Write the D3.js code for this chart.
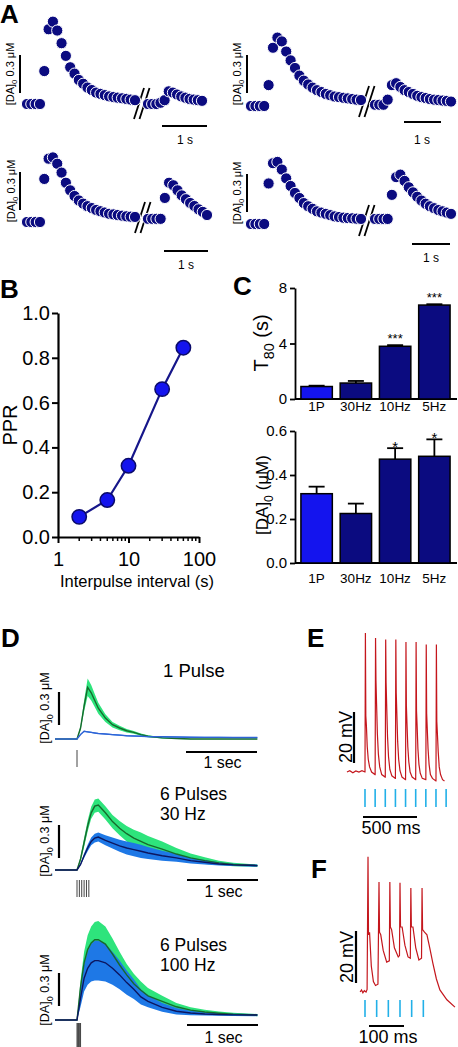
<!DOCTYPE html>
<html><head><meta charset="utf-8">
<script src="https://cdn.jsdelivr.net/npm/d3@7"></script>
<style>body{margin:0;background:#fff}svg{display:block;font-family:"Liberation Sans",Arial,Helvetica,sans-serif}</style>
</head><body><svg id="c" width="458" height="1047"></svg>
<script>
// ================= DATA =================
// Panel A: [DA]o above baseline (uM), one value per sample, before / after the break
const a1Pre  = [0,0,0,0,0.26,0.59,0.65,0.58,0.48,0.38,0.29,0.24,0.19,0.16,0.13,0.11,0.09,0.08,0.07,0.06,0.055,0.05,0.045,0.04,0.035,0.03];
const a1Post = [0,0,0,0.01,0.03,0.1,0.09,0.075,0.06,0.05,0.04,0.035,0.03,0.025];
const a2Pre  = [0,0,0,0,0.165,0.46,0.54,0.51,0.43,0.36,0.30,0.24,0.20,0.17,0.145,0.125,0.11,0.095,0.085,0.075,0.07,0.065,0.06,0.055,0.05,0.047];
const a2Post = [0.01,0.01,0.01,0.05,0.165,0.18,0.15,0.125,0.11,0.095,0.08,0.07,0.063,0.055,0.05,0.047,0.043,0.04,0.035];
const a3Pre  = [0,0,0,0,0.34,0.50,0.51,0.46,0.39,0.31,0.25,0.205,0.17,0.145,0.125,0.11,0.095,0.085,0.075,0.065,0.06,0.055,0.05,0.045,0.042,0.04];
const a3Post = [0.025,0.025,0.025,0.025,0.19,0.31,0.29,0.25,0.21,0.18,0.15,0.126,0.1,0.08,0.055];
const a4Pre  = [0,0,0,0,0.32,0.48,0.49,0.43,0.36,0.30,0.245,0.205,0.165,0.14,0.12,0.10,0.09,0.08,0.07,0.06,0.055,0.05,0.047,0.045,0.042,0.04];
const a4Post = [0.04,0.04,0.04,0.04,0.23,0.37,0.39,0.34,0.29,0.25,0.215,0.185,0.16,0.14,0.125,0.11,0.1,0.09,0.08];

// Panel B: paired-pulse ratio vs interpulse interval
const pprIntervals = [2, 5, 10, 30, 60];
const pprValues    = [0.09, 0.165, 0.318, 0.66, 0.845];
const pprYTicks    = [0, 0.2, 0.4, 0.6, 0.8, 1.0];
const pprXTicks    = [1, 10, 100];

// Panel C
const cCategories = ["1P", "30Hz", "10Hz", "5Hz"];
const t80Mean = [0.9, 1.15, 3.8, 6.77];
const t80Err  = [0.06, 0.15, 0.08, 0.06];
const t80Sig  = ["", "", "***", "***"];
const t80Ticks = [0, 4, 8];
const daMean = [0.315, 0.225, 0.472, 0.485];
const daErr  = [0.032, 0.045, 0.05, 0.077];
const daSig  = ["", "", "*", "*"];
const daTicks = [0, 0.2, 0.4, 0.6];

// Panel D: time (s) and mean / SEM of [DA]o (uM)
const dTime = [-0.31,0,0.05,0.1,0.15,0.2,0.25,0.3,0.4,0.5,0.6,0.7,0.8,0.9,1.0,1.2,1.4,1.6,1.8,2.0,2.2,2.54];
const d1Green    = [0,0,0.1,0.3,0.47,0.42,0.35,0.28,0.19,0.13,0.1,0.075,0.06,0.04,0.025,0.01,0.005,0,0,0,0,0];
const d1GreenSem = [0,0,0.02,0.05,0.08,0.07,0.06,0.05,0.035,0.025,0.02,0.015,0.012,0.01,0.008,0.005,0.004,0.003,0.003,0.003,0.003,0.003];
const d1Blue     = [0,0,0.04,0.07,0.065,0.06,0.055,0.05,0.045,0.04,0.035,0.03,0.027,0.025,0.022,0.02,0.018,0.016,0.015,0.015,0.014,0.013];
const d1BlueSem  = [0,0,0.004,0.005,0.005,0.005,0.005,0.005,0.005,0.005,0.005,0.005,0.005,0.005,0.005,0.005,0.005,0.005,0.005,0.005,0.005,0.005];
const d2Green    = [0,0,0.1,0.25,0.4,0.52,0.58,0.59,0.52,0.44,0.38,0.33,0.29,0.26,0.23,0.19,0.145,0.11,0.085,0.065,0.05,0.04];
const d2GreenSem = [0,0,0.02,0.04,0.05,0.055,0.06,0.06,0.06,0.06,0.065,0.07,0.075,0.08,0.08,0.07,0.055,0.04,0.03,0.02,0.015,0.01];
const d2Blue     = [0,0,0.05,0.13,0.2,0.26,0.29,0.3,0.27,0.245,0.22,0.2,0.185,0.17,0.155,0.13,0.11,0.085,0.07,0.055,0.047,0.04];
const d2BlueSem  = [0,0,0.01,0.02,0.03,0.035,0.04,0.04,0.045,0.05,0.055,0.06,0.06,0.06,0.055,0.045,0.035,0.025,0.02,0.015,0.01,0.01];
const d3Green    = [0,0,0.3,0.52,0.64,0.7,0.73,0.73,0.69,0.6,0.5,0.41,0.33,0.27,0.22,0.17,0.12,0.09,0.073,0.062,0.053,0.045];
const d3GreenSem = [0,0,0.06,0.1,0.13,0.15,0.16,0.17,0.16,0.14,0.12,0.1,0.09,0.08,0.07,0.05,0.035,0.025,0.02,0.015,0.012,0.01];
const d3Blue     = [0,0,0.2,0.38,0.47,0.52,0.54,0.54,0.52,0.47,0.41,0.34,0.28,0.21,0.17,0.115,0.08,0.064,0.055,0.05,0.047,0.045];
const d3BlueSem  = [0,0,0.08,0.12,0.15,0.17,0.18,0.18,0.17,0.15,0.13,0.11,0.09,0.07,0.055,0.04,0.03,0.02,0.015,0.012,0.01,0.01];
const d1Pulses = [0];
const d2Pulses = [0, 1/30, 2/30, 3/30, 4/30, 5/30];
const d3Pulses = [0, 0.01, 0.02, 0.03, 0.04, 0.05];
const dTitles = [["1 Pulse"], ["6 Pulses", "30 Hz"], ["6 Pulses", "100 Hz"]];

// Panel E: membrane potential (ms, mV relative to rest), 10 Hz stimulation
const eTrace = [[-178,0],[-150,0.5],[-120,-0.3],[-90,0.4],[-60,0],[-30,0.5],[-1,0],
 [0,0],[4,54.5],[8,22],[14,18],[22,10],[32,5],[45,2],[65,0],[99,-1],
 [100,-1],[104,52.5],[108,36],[114,27],[122,15],[132,7],[145,2],[165,-1],[199,-2],
 [200,-2],[204,52],[208,35],[214,26],[222,14],[232,6],[245,1],[265,-1.5],[299,-2.5],
 [300,-2.5],[304,52],[308,31],[314,23],[322,12],[332,5],[345,0.5],[365,-2],[399,-3],
 [400,-3],[404,51],[408,26],[414,19],[422,10],[432,4],[445,0],[465,-2],[499,-3],
 [500,-3],[504,51],[508,24],[514,18],[522,9],[532,3],[545,-0.5],[565,-2.5],[599,-3],
 [600,-3],[604,50],[608,23],[614,17],[622,9],[632,3],[645,-1],[665,-2.5],[699,-3.5],
 [700,-3.5],[704,50],[708,20],[714,15],[722,8],[732,2],[745,-1],[765,-3],[784,-3.5]];
const ePulses = [0,100,200,300,400,500,600,700,800];

// Panel F: membrane potential (ms, mV), 6 pulses 30 Hz
const fTrace = [[-14,0],[-10,0.8],[-6,-0.3],[-2,0.5],[3,0],[6,1],[8.6,52],[10,22],[13,23],[18,10],[24,4],[30,2.5],[37,3],
 [40,42.3],[41.5,23],[45,22],[52,16],[62,11.5],[69.5,12],[71,42.3],[72.5,25],[76,24],[84,17],[95,13.5],[98.5,14],
 [100,42],[101.5,25],[106,25],[114,18],[123,13.5],[129.5,13],[131,40],[132.5,25],[137,25],[145,17],[154,12.3],[161.5,13],
 [163,40],[164.5,24],[170,23],[177,22],[185,17],[194,11],[204,5],[214,0.8],[234,-3],[257,-5.8]];
const fPulses = [0, 100/3, 200/3, 100, 400/3, 500/3];

// ================= DRAWING =================
const svg = d3.select("#c");
svg.append("rect").attr("width",458).attr("height",1047).attr("fill","#fff");
const NAVY = "#0b0b80";

function letter(t,x,y){ svg.append("text").attr("x",x).attr("y",y).attr("font-size",26).attr("font-weight","bold").text(t); }
function vline(x,y1,y2,w,c){ svg.append("line").attr("x1",x).attr("x2",x).attr("y1",y1).attr("y2",y2).attr("stroke",c||"#000").attr("stroke-width",w||2); }
function hline(x1,x2,y,w,c){ svg.append("line").attr("x1",x1).attr("x2",x2).attr("y1",y).attr("y2",y).attr("stroke",c||"#000").attr("stroke-width",w||2); }
// rotated label with subscript parts: [[text, isSub], ...]
function rotLabel(x, cy, parts, size){
  const t = svg.append("text").attr("transform",`translate(${x},${cy}) rotate(-90)`)
    .attr("text-anchor","middle").attr("font-size",size).attr("fill","#000");
  let shifted = false;
  parts.forEach(([s,sub])=>{
    const ts = t.append("tspan").text(s);
    if(sub){ ts.attr("font-size",size*0.72).attr("dy",size*0.28); shifted = true; }
    else if(shifted){ ts.attr("dy",-size*0.28); shifted = false; }
  });
}
const daParts = [["[DA]"],["0",true],[" 0.3 \u03bcM"]];

// ---------- Panel A ----------
letter("A",0,23);
const aLayout = [
  {pre:a1Pre, post:a1Post, preX:[27,135], postX:[148,202], base:104, barX:20, barTop:55, labX:14, tb:[162,207,126], ts:[185,144], brk:[134,103.5]},
  {pre:a2Pre, post:a2Post, preX:[251,361], postX:[375,451], base:106, barX:247, barTop:55, labX:241, tb:[404,441,122], ts:[422,144], brk:[359,101.5]},
  {pre:a3Pre, post:a3Post, preX:[27,135], postX:[148,207], base:222, barX:20, barTop:172, labX:15, tb:[164,208,251], ts:[186,269], brk:[135,217.5]},
  {pre:a4Pre, post:a4Post, preX:[251,361], postX:[375,451], base:224, barX:247, barTop:174, labX:241, tb:[412,450,244], ts:[431,262], brk:[359,220.5]}
];
aLayout.forEach(p=>{
  const y = d3.scaleLinear().domain([0,0.3]).range([p.base, p.base-38]);
  const barLen = y(0)-y(0.3);
  vline(p.barX, p.barTop, p.barTop+barLen, 2);
  rotLabel(p.labX, p.barTop+barLen/2, daParts, 11);
  [0,5.5].forEach(o=>{
    svg.append("line").attr("x1",p.brk[0]+o).attr("y1",p.brk[1]+15.5).attr("x2",p.brk[0]+o+10).attr("y2",p.brk[1]-15.5)
      .attr("stroke","#000").attr("stroke-width",1.8);
  });
  const xPre = d3.scaleLinear().domain([0,p.pre.length-1]).range(p.preX);
  const xPost = d3.scaleLinear().domain([0,p.post.length-1]).range(p.postX);
  const g = svg.append("g");
  g.selectAll("circle.pre").data(p.pre).join("circle").attr("class","pre")
    .attr("cx",(d,i)=>xPre(i)).attr("cy",d=>y(d)).attr("r",5.6).attr("fill",NAVY).attr("stroke","#fff").attr("stroke-width",1);
  g.selectAll("circle.post").data(p.post).join("circle").attr("class","post")
    .attr("cx",(d,i)=>xPost(i)).attr("cy",d=>y(d)).attr("r",5.6).attr("fill",NAVY).attr("stroke","#fff").attr("stroke-width",1);
  hline(p.tb[0],p.tb[1],p.tb[2],2);
  svg.append("text").attr("x",p.ts[0]).attr("y",p.ts[1]).attr("text-anchor","middle").attr("font-size",12).text("1 s");
});

// ---------- Panel B ----------
letter("B",0,298);
const xB = d3.scaleLog().domain([1,100]).range([58,199]);
const yB = d3.scaleLinear().domain([0,1]).range([537,313]);
const gyB = svg.append("g").attr("transform","translate(58,0)")
  .call(d3.axisLeft(yB).tickValues(pprYTicks).tickFormat(d3.format(".1f")).tickSize(6).tickSizeOuter(0).tickPadding(2));
const gxB = svg.append("g").attr("transform","translate(0,537)")
  .call(d3.axisBottom(xB).tickValues(pprXTicks).tickFormat(d3.format("d")).tickSize(6).tickSizeOuter(0).tickPadding(9));
const minorB = [2,3,4,5,6,7,8,9,20,30,40,50,60,70,80,90];
svg.append("g").selectAll("line").data(minorB).join("line")
  .attr("x1",d=>xB(d)).attr("x2",d=>xB(d)).attr("y1",537).attr("y2",541).attr("stroke","#000").attr("stroke-width",1.5);
[gyB,gxB].forEach(g=>{
  g.selectAll("text").attr("font-size",20).attr("font-family",null).attr("fill","#000");
  g.select(".domain").attr("stroke-width",2.2);
  g.selectAll(".tick line").attr("stroke-width",2);
});
svg.append("text").attr("x",137).attr("y",587).attr("text-anchor","middle").attr("font-size",16.5).text("Interpulse interval (s)");
rotLabel(17, 425, [["PPR"]], 20);
const pprPts = pprIntervals.map((d,i)=>[d,pprValues[i]]);
svg.append("path").datum(pprPts).attr("d",d3.line().x(d=>xB(d[0])).y(d=>yB(d[1])))
  .attr("fill","none").attr("stroke","#16168a").attr("stroke-width",2.2);
svg.append("g").selectAll("circle").data(pprPts).join("circle")
  .attr("cx",d=>xB(d[0])).attr("cy",d=>yB(d[1])).attr("r",7.2).attr("fill","#1414ee").attr("stroke","#0a0a6a").attr("stroke-width",1.5);

// ---------- Panel C ----------
letter("C",233,295);
const xC = d3.scaleBand().domain(cCategories).range([297,454]).paddingInner(0.2).paddingOuter(0.1);
function barChart(mean, err, sig, ticks, yDom, yRange, fmt, labY, starOff, starSize){
  const y = d3.scaleLinear().domain(yDom).range(yRange);
  const ga = svg.append("g").attr("transform","translate(295,0)")
    .call(d3.axisLeft(y).tickValues(ticks).tickFormat(fmt).tickSize(5).tickSizeOuter(0).tickPadding(3));
  ga.selectAll("text").attr("font-size",15).attr("font-family",null).attr("fill","#000");
  ga.select(".domain").attr("stroke-width",1.8);
  ga.selectAll(".tick line").attr("stroke-width",1.8);
  hline(295,457,y(0),1.8);
  const data = cCategories.map((c,i)=>({c, m:mean[i], e:err[i], s:sig[i]}));
  const g = svg.append("g");
  g.selectAll("line.eb").data(data).join("line").attr("class","eb")
    .attr("x1",d=>xC(d.c)+xC.bandwidth()/2).attr("x2",d=>xC(d.c)+xC.bandwidth()/2)
    .attr("y1",d=>y(d.m)).attr("y2",d=>y(d.m+d.e)).attr("stroke","#000").attr("stroke-width",1.8);
  g.selectAll("line.cap").data(data).join("line").attr("class","cap")
    .attr("x1",d=>xC(d.c)+xC.bandwidth()/2-8).attr("x2",d=>xC(d.c)+xC.bandwidth()/2+8)
    .attr("y1",d=>y(d.m+d.e)).attr("y2",d=>y(d.m+d.e)).attr("stroke","#000").attr("stroke-width",1.8);
  g.selectAll("rect").data(data).join("rect")
    .attr("x",d=>xC(d.c)).attr("width",xC.bandwidth()).attr("y",d=>y(d.m)).attr("height",d=>y(0)-y(d.m))
    .attr("fill",(d,i)=>i===0?"#1414ee":NAVY).attr("stroke","#000").attr("stroke-width",1.5);
  g.selectAll("text.sig").data(data).join("text").attr("class","sig")
    .attr("x",d=>xC(d.c)+xC.bandwidth()/2).attr("y",d=>y(d.m+d.e)+starOff).attr("text-anchor","middle")
    .attr("font-size",starSize).text(d=>d.s);
  g.selectAll("text.cat").data(data).join("text").attr("class","cat")
    .attr("x",d=>xC(d.c)+xC.bandwidth()/2).attr("y",labY).attr("text-anchor","middle").attr("font-size",13.5).text(d=>d.c);
}
barChart(t80Mean, t80Err, t80Sig, t80Ticks, [0,8], [399,288], d3.format("d"), 411, -2, 13);
barChart(daMean, daErr, daSig, daTicks, [0,0.6], [563,431], d3.format(".1f"), 583, 4, 15);
rotLabel(268, 343, [["T"],["80",true],[" (s)"]], 20);
rotLabel(268, 495, [["[DA]"],["0",true],[" (\u03bcM)"]], 17);

// ---------- Panel D ----------
letter("D",1,647);
const xD = d3.scaleLinear().domain([0,1]).range([77,148]);
const dLayout = [
  {g:d1Green, gs:d1GreenSem, b:d1Blue, bs:d1BlueSem, base:739, barTop:692, labCy:708, title:dTitles[0], tXY:[163,677], tb:[186,752], tsY:768, pulses:d1Pulses, pY:[750,767], blueLine:"#2f63d6"},
  {g:d2Green, gs:d2GreenSem, b:d2Blue, bs:d2BlueSem, base:870, barTop:825, labCy:841, title:dTitles[1], tXY:[160,800], tb:[187,880], tsY:897, pulses:d2Pulses, pY:[880,897], blueLine:"#0c1660"},
  {g:d3Green, gs:d3GreenSem, b:d3Blue, bs:d3BlueSem, base:1020, barTop:973, labCy:990, title:dTitles[2], tXY:[160,951], tb:[187,1025], tsY:1043, pulses:d3Pulses, pY:[1023,1047], blueLine:"#0c1660"}
];
dLayout.forEach(p=>{
  const y = d3.scaleLinear().domain([0,0.3]).range([p.base, p.base-33]);
  const gArea = d3.area().x((d,i)=>xD(dTime[i])).y0((d,i)=>y(p.g[i]-p.gs[i])).y1((d,i)=>y(p.g[i]+p.gs[i]));
  const bArea = d3.area().x((d,i)=>xD(dTime[i])).y0((d,i)=>y(p.b[i]-p.bs[i])).y1((d,i)=>y(p.b[i]+p.bs[i]));
  const gLine = d3.line().x((d,i)=>xD(dTime[i])).y((d,i)=>y(p.g[i]));
  const bLine = d3.line().x((d,i)=>xD(dTime[i])).y((d,i)=>y(p.b[i]));
  svg.append("path").datum(p.g).attr("d",gArea).attr("fill","#2ee47c");
  svg.append("path").datum(p.b).attr("d",bArea).attr("fill","#1e78e6");
  svg.append("path").datum(p.g).attr("d",gLine).attr("fill","none").attr("stroke","#17692c").attr("stroke-width",1.4);
  svg.append("path").datum(p.b).attr("d",bLine).attr("fill","none").attr("stroke",p.blueLine).attr("stroke-width",1.4);
  vline(59, p.barTop, p.barTop + (y(0)-y(0.3)), 2.2);
  rotLabel(49, p.labCy, daParts, 12.5);
  const fs = p.title.length > 1 ? 17.5 : 18.5;
  p.title.forEach((t,i)=>svg.append("text").attr("x",p.tXY[0]).attr("y",p.tXY[1]+i*19.8).attr("font-size",fs).text(t));
  hline(p.tb[0], p.tb[0] + (xD(1)-xD(0)), p.tb[1], 2.2);
  svg.append("text").attr("x",p.tb[0]+(xD(1)-xD(0))/2+1).attr("y",p.tsY).attr("text-anchor","middle").attr("font-size",16).text("1 sec");
  svg.append("g").selectAll("line").data(p.pulses).join("line")
    .attr("x1",d=>xD(d)).attr("x2",d=>xD(d)).attr("y1",p.pY[0]).attr("y2",p.pY[1]).attr("stroke","#444").attr("stroke-width",1);
});

// ---------- Panel E ----------
letter("E",307,647);
const xE = d3.scaleLinear().domain([0,100]).range([365,375.14]);
const yE = d3.scaleLinear().domain([0,20]).range([772,721]);
svg.append("path").datum(eTrace).attr("d",d3.line().x(d=>xE(d[0])).y(d=>yE(d[1])))
  .attr("fill","none").attr("stroke","#c4161c").attr("stroke-width",1.2);
vline(354, 712, 712+(yE(0)-yE(20)), 2.2);
rotLabel(352, 737, [["20 mV"]], 18);
svg.append("g").selectAll("line").data(ePulses).join("line")
  .attr("x1",d=>xE(d)).attr("x2",d=>xE(d)).attr("y1",789).attr("y2",807).attr("stroke","#22b0e8").attr("stroke-width",1.6);
hline(363,417,817,2.2);
svg.append("text").attr("x",391).attr("y",834).attr("text-anchor","middle").attr("font-size",18).text("500 ms");

// ---------- Panel F ----------
letter("F",311,878);
const xF = d3.scaleLinear().domain([0,100]).range([365,400]);
const yF = d3.scaleLinear().domain([0,20]).range([992,940]);
svg.append("path").datum(fTrace).attr("d",d3.line().x(d=>xF(d[0])).y(d=>yF(d[1])))
  .attr("fill","none").attr("stroke","#c4161c").attr("stroke-width",1.2);
vline(356, 931, 931+(yF(0)-yF(20)), 2.2);
rotLabel(353, 957, [["20 mV"]], 18);
svg.append("g").selectAll("line").data(fPulses).join("line")
  .attr("x1",d=>xF(d)).attr("x2",d=>xF(d)).attr("y1",1000).attr("y2",1017).attr("stroke","#22b0e8").attr("stroke-width",1.6);
hline(369,404,1026,2.2);
svg.append("text").attr("x",388).attr("y",1043).attr("text-anchor","middle").attr("font-size",18).text("100 ms");
</script></body></html>
